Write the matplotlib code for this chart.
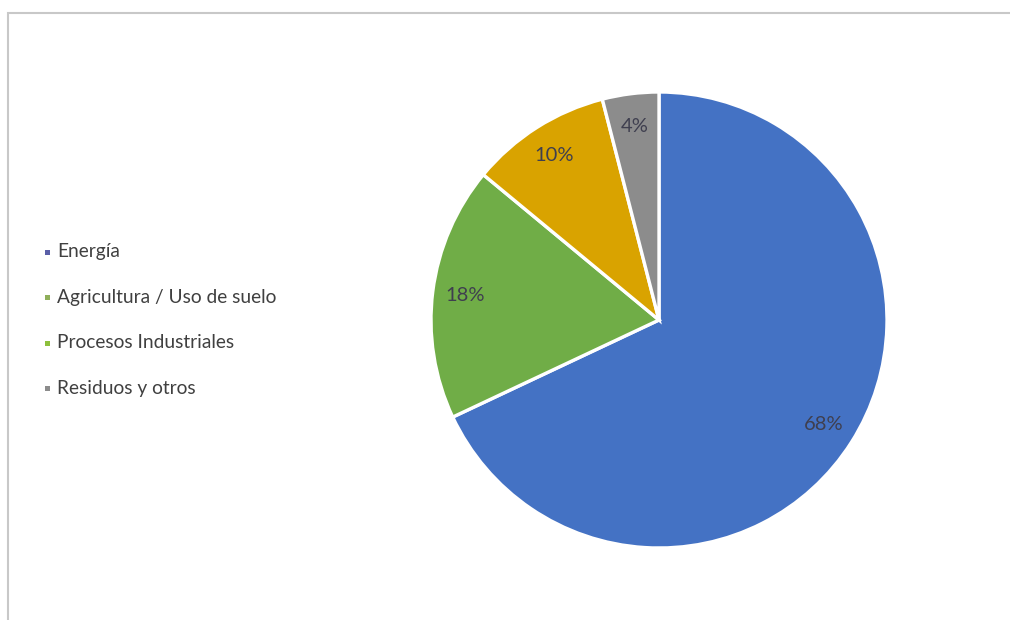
import matplotlib
matplotlib.use("Agg")
import matplotlib.pyplot as plt
from matplotlib.patches import Rectangle

categories = ["Energía", "Agricultura / Uso de suelo", "Procesos Industriales", "Residuos y otros"]
values = [68, 18, 10, 4]
wedge_colors = ["#4472C4", "#70AD47", "#D9A300", "#8C8C8C"]
legend_colors = ["#5A5FA8", "#8FAF5A", "#8DC03C", "#8C8C8C"]

plt.rcParams["font.family"] = ["Lato", "DejaVu Sans"]

fig = plt.figure(figsize=(10.10, 6.20), dpi=100)
fig.patch.set_facecolor("white")

# chart frame
fig.patches.append(Rectangle((8/1010, -0.01), 1.1, (620-13)/620 + 0.01, transform=fig.transFigure,
                             fill=False, edgecolor="#C8C8C8", linewidth=1.5))

ax = fig.add_axes([431/1010, 72/620, 456/1010, 456/620])
wedges, texts, autotexts = ax.pie(
    values, colors=wedge_colors, startangle=90, counterclock=False,
    autopct=lambda p: f"{p:.0f}%", pctdistance=0.855,
    wedgeprops=dict(edgecolor="white", linewidth=2.4),
    textprops=dict(color="#3F3F4F", fontsize=14.5))
ax.set_xlim(-1.0, 1.0)
ax.set_ylim(-1.0, 1.0)
ax.set_aspect("equal")
ax.axis("off")

# legend
y0 = 252
dy = 45.5
for i, (lab, col) in enumerate(zip(categories, legend_colors)):
    yc = 1 - (y0 + i * dy) / 620
    fig.patches.append(Rectangle((45/1010, yc - 2.5/620), 5/1010, 5/620, transform=fig.transFigure,
                                 facecolor=col, edgecolor="none"))
    fig.text(57/1010, yc, lab, fontsize=13.8, color="#404040", va="center", ha="left")

fig.savefig("out.png", dpi=100, facecolor="white")
